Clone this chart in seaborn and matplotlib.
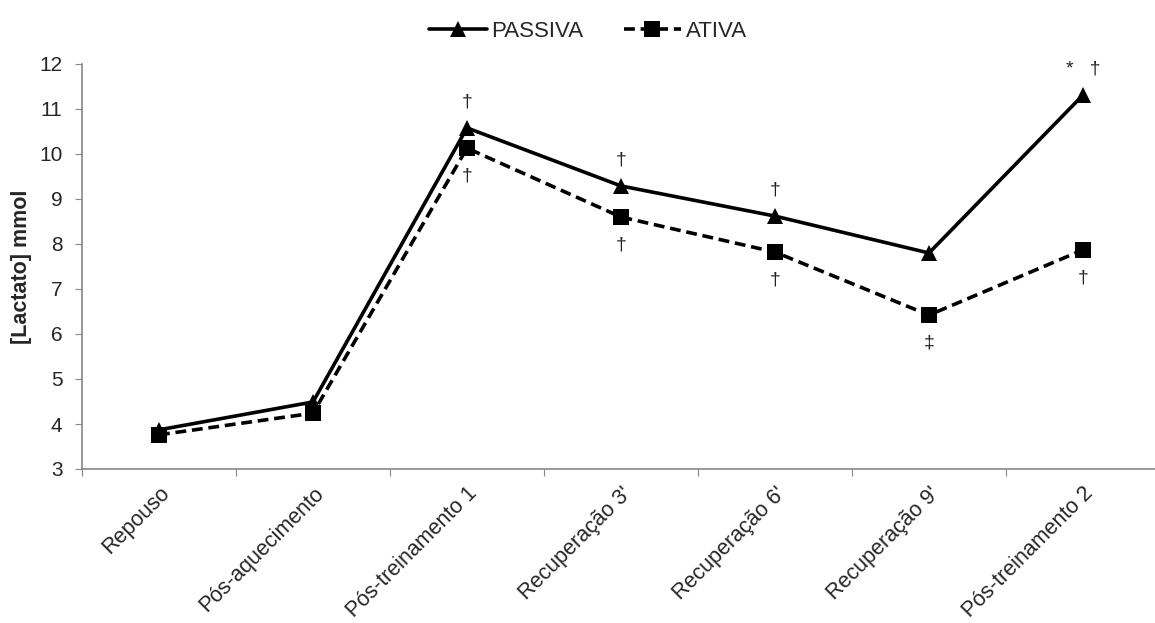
import numpy as np
import matplotlib
matplotlib.use("Agg")
import matplotlib.pyplot as plt
import pandas as pd
import seaborn as sns

momentos = ["Repouso", "Pós-aquecimento", "Pós-treinamento 1", "Recuperação 3'",
            "Recuperação 6'", "Recuperação 9'", "Pós-treinamento 2"]
passiva = [3.87, 4.49, 10.58, 9.29, 8.62, 7.80, 11.31]
ativa = [3.76, 4.24, 10.13, 8.60, 7.82, 6.42, 7.87]

# marcas de significância: (índice, série, texto, acima/abaixo)
marcas = [
    (2, "PASSIVA", "†", 1), (2, "ATIVA", "†", -1),
    (3, "PASSIVA", "†", 1), (3, "ATIVA", "†", -1),
    (4, "PASSIVA", "†", 1), (4, "ATIVA", "†", -1),
    (5, "ATIVA", "‡", -1),
    (6, "PASSIVA", "*   †", 1), (6, "ATIVA", "†", -1),
]

df = pd.DataFrame({
    "momento": momentos * 2,
    "lactato": passiva + ativa,
    "grupo": ["PASSIVA"] * len(momentos) + ["ATIVA"] * len(momentos),
})

sns.set_style("white")
plt.rcParams["font.family"] = ["Liberation Sans", "DejaVu Sans"]

fig = plt.figure(figsize=(11.55, 6.23), dpi=100)
ax = fig.add_axes([82 / 1155, 1 - 469 / 623, 1078 / 1155, 405 / 623])

sns.lineplot(
    data=df, x="momento", y="lactato", hue="grupo", style="grupo",
    palette={"PASSIVA": "black", "ATIVA": "black"},
    markers={"PASSIVA": "^", "ATIVA": "s"},
    dashes={"PASSIVA": "", "ATIVA": (3, 1.6)},
    linewidth=2.6, markersize=11, markeredgewidth=0, ax=ax, sort=False,
)

serie = {"PASSIVA": passiva, "ATIVA": ativa}
for i, g, txt, lado in marcas:
    y = serie[g][i]
    off = 19 if lado > 0 else -20
    ax.annotate(txt, (i, y), xytext=(0, off),
                textcoords="offset points", ha="center", va="center",
                fontsize=14, color="#222222")

ax.set_xlim(-0.5, 6.5)
ax.set_ylim(3, 12)
ax.set_yticks(range(3, 13))
ax.set_xticks(np.arange(-0.5, 6.6, 1), minor=False)
ax.set_xticklabels([])
ax.set_xticks(range(7), minor=True)
ax.set_xticklabels(momentos, minor=True, rotation=45, ha="right",
                   rotation_mode="anchor", fontsize=15.5)
ax.tick_params(axis="x", which="minor", length=0, pad=10)
ax.tick_params(axis="x", which="major", length=5, color="#888888", direction="out")
ax.tick_params(axis="y", length=5, color="#888888", direction="out", labelsize=15, pad=9)
ax.tick_params(bottom=True, left=True)
for s in ["top", "right"]:
    ax.spines[s].set_visible(False)
for s in ["left", "bottom"]:
    ax.spines[s].set_color("#888888")
    ax.spines[s].set_linewidth(1.2)

ax.set_xlabel("")
ax.set_ylabel("[Lactato] mmol", fontsize=15.5, fontweight="bold", labelpad=5)

h, l = ax.get_legend_handles_labels()
ax.legend(h, l, loc="upper center", bbox_to_anchor=(0.5 - 33 / 1078, 1 + 63 / 405),
          ncol=2, frameon=False, fontsize=16, handlelength=2.6,
          columnspacing=1.8, handletextpad=0.2)

fig.savefig("out.png", dpi=100)
